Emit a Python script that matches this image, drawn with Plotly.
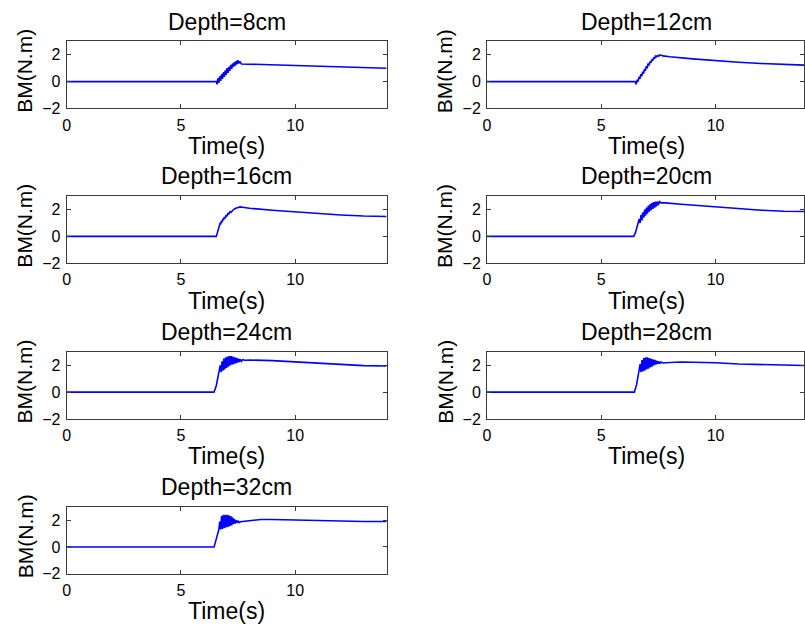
import plotly.graph_objects as go

W, H = 805, 636

depth_titles = ["Depth=8cm", "Depth=12cm", "Depth=16cm", "Depth=20cm",
                "Depth=24cm", "Depth=28cm", "Depth=32cm"]

x_ticks = [0, 5, 10]
y_ticks = [-2, 0, 2]

# Depth = 8 cm
t_8 = [0, 6.50, 6.55, 6.58, 6.62, 6.66, 6.70, 6.74, 6.78, 6.82, 6.86, 6.90, 6.94, 6.98,
       7.02, 7.06, 7.10, 7.14, 7.18, 7.22, 7.26, 7.30, 7.34, 7.38, 7.42, 7.46, 7.50,
       7.54, 7.58, 7.65, 8.0, 9.0, 10.0, 11.0, 12.0, 13.0, 14.0]
v_8 = [0, 0, 0.0, -0.2, 0.25, -0.1, 0.4, 0.05, 0.55, 0.2, 0.7, 0.35, 0.85, 0.5,
       1.0, 0.65, 1.1, 0.8, 1.25, 0.95, 1.35, 1.1, 1.45, 1.2, 1.55, 1.3, 1.6,
       1.35, 1.5, 1.32, 1.3, 1.25, 1.2, 1.15, 1.1, 1.05, 1.0]

# Depth = 12 cm
t_12 = [0, 6.48, 6.53, 6.57, 6.61, 6.65, 6.69, 6.73, 6.77, 6.81, 6.85, 6.89, 6.93,
        6.97, 7.01, 7.05, 7.09, 7.13, 7.17, 7.21, 7.25, 7.29, 7.33, 7.37, 7.41,
        7.45, 7.50, 7.57, 7.7, 8.0, 9.0, 10.0, 11.0, 12.0, 13.0, 14.0]
v_12 = [0, 0, -0.2, 0.15, 0.0, 0.35, 0.2, 0.55, 0.4, 0.75, 0.6, 0.95, 0.8,
        1.15, 1.0, 1.35, 1.2, 1.5, 1.4, 1.65, 1.55, 1.8, 1.7, 1.9, 1.85,
        1.95, 1.9, 2.0, 1.92, 1.85, 1.7, 1.55, 1.45, 1.35, 1.28, 1.22]

# Depth = 16 cm
t_16 = [0, 6.50, 6.55, 6.60, 6.65, 6.68, 6.71, 6.74, 6.77, 6.80, 6.83, 6.86, 6.90,
        6.94, 6.98, 7.02, 7.06, 7.10, 7.15, 7.20, 7.30, 7.40, 7.50, 7.60, 7.70,
        8.0, 9.0, 10.0, 11.0, 12.0, 13.0, 14.0]
v_16 = [0, 0, 0.0, 0.3, 0.6, 0.75, 0.95, 0.9, 1.15, 1.05, 1.3, 1.2, 1.45,
        1.35, 1.6, 1.5, 1.75, 1.65, 1.85, 1.8, 2.0, 2.1, 2.15, 2.2, 2.18,
        2.1, 1.95, 1.82, 1.7, 1.6, 1.52, 1.48]

# Depth = 20 cm
t_20 = [0, 6.42, 6.50, 6.58, 6.62, 6.66, 6.70, 6.74, 6.78, 6.82, 6.86, 6.90, 6.94,
        6.98, 7.02, 7.06, 7.10, 7.14, 7.18, 7.22, 7.26, 7.30, 7.34, 7.38, 7.42,
        7.46, 7.50, 7.55, 7.62, 7.8, 8.5, 9.0, 10.0, 11.0, 12.0, 13.0, 14.0]
v_20 = [0, 0, 0.3, 0.8, 1.0, 1.3, 1.0, 1.6, 1.2, 1.8, 1.4, 2.0, 1.55,
        2.15, 1.7, 2.3, 1.85, 2.4, 1.95, 2.5, 2.05, 2.55, 2.15, 2.6, 2.25,
        2.6, 2.35, 2.6, 2.5, 2.5, 2.4, 2.33, 2.2, 2.05, 1.95, 1.88, 1.85]

# Depth = 24 cm
t_24 = [0, 6.45, 6.55, 6.62, 6.68, 6.72, 6.76, 6.80, 6.84, 6.88, 6.92, 6.96, 7.00,
        7.04, 7.08, 7.12, 7.16, 7.20, 7.24, 7.28, 7.32, 7.36, 7.40, 7.44, 7.48,
        7.52, 7.56, 7.60, 7.65, 7.70, 7.8, 8.0, 9.0, 10.0, 11.0, 12.0, 13.0, 14.0]
v_24 = [0, 0, 0.5, 1.1, 1.5, 2.0, 1.5, 2.3, 1.6, 2.5, 1.7, 2.6, 1.8,
        2.65, 1.9, 2.7, 2.0, 2.7, 2.05, 2.65, 2.1, 2.6, 2.15, 2.55, 2.2,
        2.5, 2.25, 2.45, 2.3, 2.42, 2.38, 2.4, 2.35, 2.25, 2.15, 2.05, 1.98, 1.95]

# Depth = 28 cm
t_28 = [0, 6.45, 6.55, 6.62, 6.66, 6.70, 6.74, 6.78, 6.82, 6.86, 6.90, 6.94, 6.98,
        7.02, 7.06, 7.10, 7.14, 7.18, 7.22, 7.26, 7.30, 7.34, 7.38, 7.42, 7.46,
        7.50, 7.55, 7.60, 7.70, 7.8, 8.5, 9.0, 10.0, 11.0, 12.0, 13.0, 14.0]
v_28 = [0, 0, 0.6, 1.2, 1.6, 2.1, 1.5, 2.4, 1.55, 2.55, 1.6, 2.6, 1.7,
        2.6, 1.75, 2.55, 1.85, 2.5, 1.9, 2.45, 2.0, 2.4, 2.05, 2.35, 2.1,
        2.3, 2.12, 2.25, 2.18, 2.2, 2.25, 2.25, 2.2, 2.1, 2.05, 2.0, 1.98]

# Depth = 32 cm
t_32 = [0, 6.45, 6.55, 6.62, 6.66, 6.70, 6.74, 6.78, 6.82, 6.86, 6.90, 6.94, 6.98,
        7.02, 7.06, 7.10, 7.14, 7.18, 7.22, 7.26, 7.30, 7.34, 7.38, 7.42, 7.46,
        7.50, 7.55, 7.60, 7.8, 8.0, 8.5, 9.0, 10.0, 11.0, 12.0, 13.0, 14.0]
v_32 = [0, 0, 0.6, 1.1, 1.3, 1.9, 1.3, 2.3, 1.35, 2.4, 1.4, 2.4, 1.45,
        2.4, 1.5, 2.35, 1.55, 2.3, 1.6, 2.2, 1.7, 2.1, 1.75, 2.0, 1.8,
        1.95, 1.82, 1.88, 1.92, 1.97, 2.05, 2.05, 2.0, 1.95, 1.92, 1.9, 1.9]

series_t = [t_8, t_12, t_16, t_20, t_24, t_28, t_32]
series_v = [v_8, v_12, v_16, v_20, v_24, v_28, v_32]

# layout geometry (pixels)
col_left = [(63, 385), (486, 805)]
row_top = [42, 199, 357, 514]
box_h = 68
x_max = [14, 13.87]

font = "Liberation Sans, Arial, sans-serif"
fig = go.Figure()
layout = dict(width=W, height=H, margin=dict(l=0, r=0, t=0, b=0),
              paper_bgcolor="white", plot_bgcolor="white", showlegend=False,
              annotations=[])

for i in range(7):
    r, c = divmod(i, 2)
    x0, x1 = col_left[c]
    top = row_top[r]
    bot = top + box_h
    xa = "xaxis" if i == 0 else f"xaxis{i+1}"
    ya = "yaxis" if i == 0 else f"yaxis{i+1}"
    xr = "x" if i == 0 else f"x{i+1}"
    yr = "y" if i == 0 else f"y{i+1}"
    fig.add_trace(go.Scatter(x=series_t[i], y=series_v[i], mode="lines",
                             line=dict(color="#0000ff", width=1.6),
                             xaxis=xr, yaxis=yr))
    common = dict(showline=True, linecolor="#3a3a3a", linewidth=1, mirror="ticks",
                  ticks="inside", ticklen=4, tickcolor="#3a3a3a", showgrid=False,
                  zeroline=False, tickfont=dict(family=font, size=16, color="black"))
    layout[xa] = dict(common, domain=[x0 / W, x1 / W], range=[0, x_max[c]],
                      tickvals=x_ticks, anchor=yr, ticklabelstandoff=2)
    layout[ya] = dict(common, domain=[1 - bot / H, 1 - top / H], range=[-2, 3],
                      tickvals=y_ticks, anchor=xr, ticklabelstandoff=2)
    cx = (63 + 385) / 2 if c == 0 else (486 + 807) / 2
    layout["annotations"].append(dict(text=depth_titles[i], x=cx / W, y=1 - (top - 20) / H,
                                      xref="paper", yref="paper", showarrow=False,
                                      xanchor="center", yanchor="middle",
                                      font=dict(family=font, size=23, color="black")))
    layout["annotations"].append(dict(text="Time(s)", x=cx / W, y=1 - (bot + 38) / H,
                                      xref="paper", yref="paper", showarrow=False,
                                      xanchor="center", yanchor="middle",
                                      font=dict(family=font, size=23, color="black")))
    layout["annotations"].append(dict(text="BM(N.m)", x=(x0 - 42) / W, y=1 - (top + 30) / H,
                                      xref="paper", yref="paper", showarrow=False,
                                      textangle=-90, xanchor="center", yanchor="middle",
                                      font=dict(family=font, size=21, color="black")))

fig.update_layout(**layout)
fig.write_html("out.html", config={"displayModeBar": False},
               post_script="document.body.style.margin='0';document.body.style.overflow='hidden';")
